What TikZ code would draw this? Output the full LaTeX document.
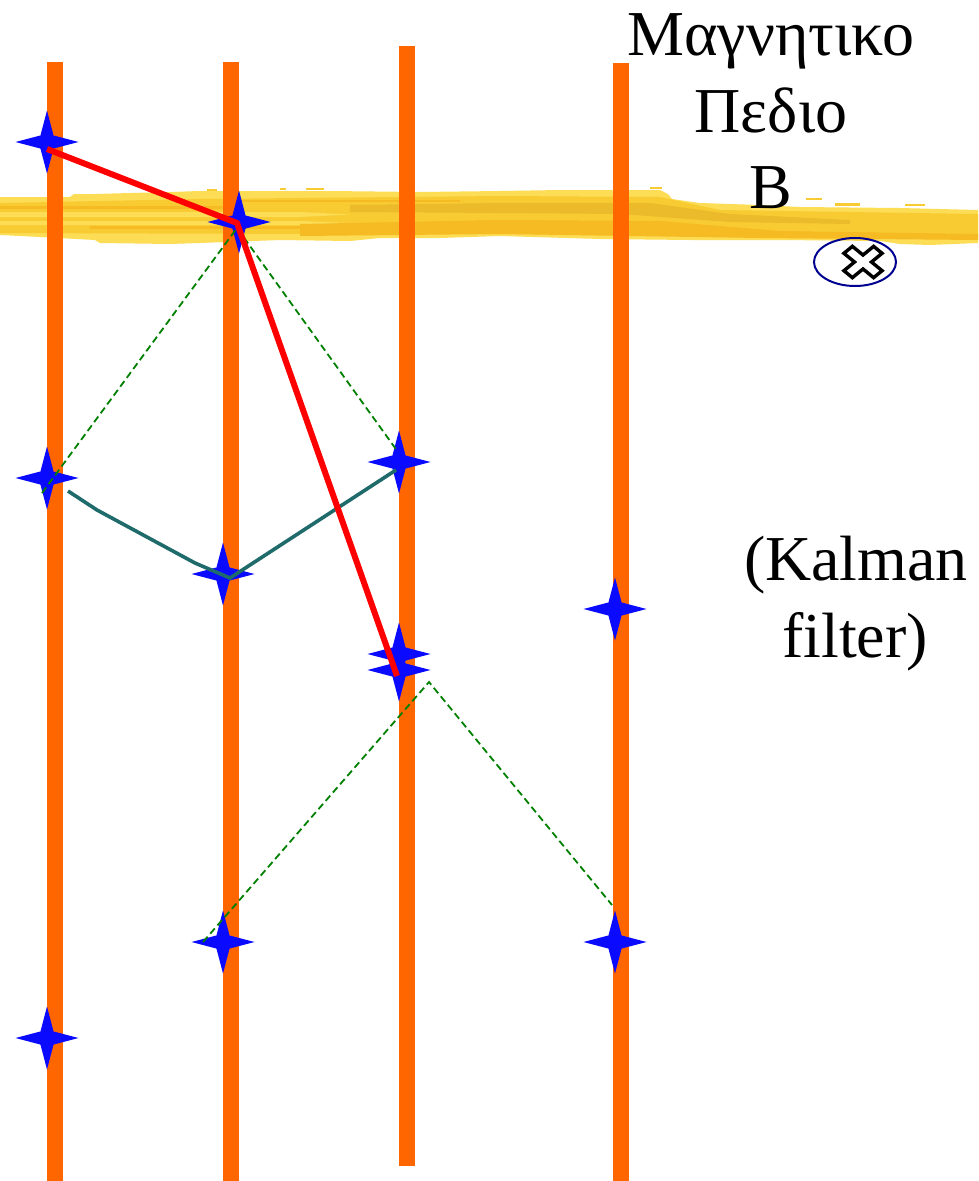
\documentclass[tikz,border=0pt]{standalone}
\usepackage{fontspec}
\setmainfont{Liberation Serif}
\usetikzlibrary{arrows.meta,positioning,shapes,calc}
\definecolor{wireorange}{HTML}{FF6600}
\definecolor{hitblue}   {HTML}{0A0AFF}
\definecolor{trackred}  {HTML}{FF0000}
\definecolor{fitteal}   {HTML}{1F6B6B}
\definecolor{gatedgreen}{HTML}{008000}
\definecolor{fieldnavy} {HTML}{000090}
\definecolor{brushlight}{HTML}{FCDD55}
\definecolor{brushmid}  {HTML}{F8CB32}
\definecolor{brushdark} {HTML}{F6BA22}
\definecolor{brushdull} {HTML}{EBBB2C}
\tikzset{
  hitstar/.style={star,star points=4,star point ratio=3.4,minimum size=63pt,inner sep=0pt,outer sep=0pt,fill=hitblue},
  wire/.style={wireorange,line width=16pt},
  gatepath/.style={gatedgreen,line width=1.8pt,dash pattern=on 7pt off 4pt},
  bigtext/.style={font=\fontsize{64}{77}\selectfont,align=center,text=black,inner sep=0pt}
}
\begin{document}
\begin{tikzpicture}[x=1pt,y=-1pt]
        \useasboundingbox (0,0) rectangle (978,1181);
        \fill[white] (0,0) rectangle (978,1181);
        % brush stroke
        \fill[brushlight] (0,197) -- (70,197) -- (74,194) -- (95,194) -- (130,193) -- (170,192) -- (200,191) -- (330,191) -- (420,192) -- (500,191) -- (560,190) -- (660,190) -- (668,194) -- (672,199) -- (700,203) -- (760,205) -- (800,207) -- (900,208) -- (978,210)
          -- (978,243) -- (930,245) -- (900,244) -- (880,241) -- (780,240) -- (690,240) -- (600,239) -- (500,236) -- (440,238) -- (380,238) -- (350,241) -- (280,240) -- (200,243) -- (170,244) -- (100,243) -- (95,240) -- (40,237) -- (0,235) -- cycle;
        \fill[brushmid] (0,203) -- (200,199) -- (500,196) -- (660,197) -- (720,210) -- (978,214) -- (978,239) -- (760,237) -- (500,233) -- (300,234) -- (0,233) -- cycle;
        \foreach \ly/\lh in {212/5,221/4}
          {\fill[brushlight] (0,\ly) -- (300,\ly) -- (350,\ly+\lh/2) -- (300,\ly+\lh) -- (0,\ly+\lh) -- cycle;}
        \foreach \ly/\lh/\lx in {206/3/0,226/3/90,200/2/230}
          {\fill[brushdark] (\lx,\ly) rectangle (\lx+230,\ly+\lh);}
        \fill[brushdark] (300,224) -- (500,220) -- (660,221) -- (780,231) -- (978,234) -- (978,240) -- (760,238) -- (500,234) -- (300,236) -- cycle;
        \fill[brushdull] (350,205) -- (500,203) -- (650,203) -- (730,214) -- (850,220) -- (850,224) -- (730,222) -- (620,214) -- (500,213) -- (350,212) -- cycle;
        \fill[brushmid] (207,189) rectangle (217,191);
        \fill[brushmid] (280,188) rectangle (286,190);
        \fill[brushmid] (306,188) rectangle (324,190);
        \fill[brushmid] (650,187) rectangle (662,189);
        \fill[brushmid] (806,198) rectangle (822,200);
        \fill[brushmid] (835,203) rectangle (860,206);
        \fill[brushmid] (905,204) rectangle (925,206);
        % wires
        \draw[wire] (55,62) -- (55,1181);
        \draw[wire] (231,62) -- (231,1181);
        \draw[wire] (407,46) -- (407,1166);
        \draw[wire] (621,63) -- (621,1181);
        % hits
        \foreach \hitname/\hx/\hy in {hita/47/142,hitb/239/222,hitc/47/478,hitd/223/574,hite/399/462,hitf/399/654,hitg/399/670,hith/615/609,hiti/223/942,hitj/615/942,hitk/47/1038}
          {\node[hitstar] (\hitname) at (\hx,\hy) {};}
        % gates
        \coordinate (gatea) at (42,493);
        \coordinate (gateb) at (237,228);
        \coordinate (gatec) at (398,452);
        \coordinate (gated) at (203,942);
        \coordinate (gatee) at (429,682);
        \coordinate (gatef) at (612,905);
        \draw[gatepath] (gatea) -- (gateb) -- (gatec);
        \draw[gatepath] (gated) -- (gatee) -- (gatef);
        % fitted track
        \coordinate (fita) at (68,491);
        \coordinate (fitb) at (97,510);
        \coordinate (fitc) at (195,563);
        \coordinate (fitd) at (230,578);
        \coordinate (fite) at (396,470);
        \draw[fitteal,line width=3.6pt] (fita) -- (fitb) -- (fitc) -- (fitd) -- (fite);
        % red track
        \coordinate (tracka) at (47,149);
        \coordinate (trackb) at (237,223);
        \coordinate (trackc) at (397,676);
        \draw[trackred,line width=6pt] (tracka) -- (trackb) -- (trackc);
        % field symbol
        \node[ellipse,draw=fieldnavy,line width=2pt,minimum width=82pt,minimum height=48pt,inner sep=0pt] (fieldmark) at (855,262) {};
        \begin{scope}[shift={(863,262)},yscale=0.82,rotate=45]
          \draw[black,fill=white,line width=3.4pt,line join=miter] (-6,-21) -- (6,-21) -- (6,-6) -- (21,-6) -- (21,6) -- (6,6) -- (6,21) -- (-6,21) -- (-6,6) -- (-21,6) -- (-21,-6) -- (-6,-6) -- cycle;
        \end{scope}
        % labels
        \node[bigtext,anchor=base] (fieldone) at (771,55) {Μαγνητικο};
        \node[bigtext,anchor=base] (fieldtwo) at (771,132) {Πεδιο};
        \node[bigtext,anchor=base] (fieldthree) at (771,208) {B};
        \node[bigtext,anchor=base] (kalmanone) at (856,580) {(Kalman};
        \node[bigtext,anchor=base] (kalmantwo) at (855,657) {filter)};
\end{tikzpicture}
\end{document}
